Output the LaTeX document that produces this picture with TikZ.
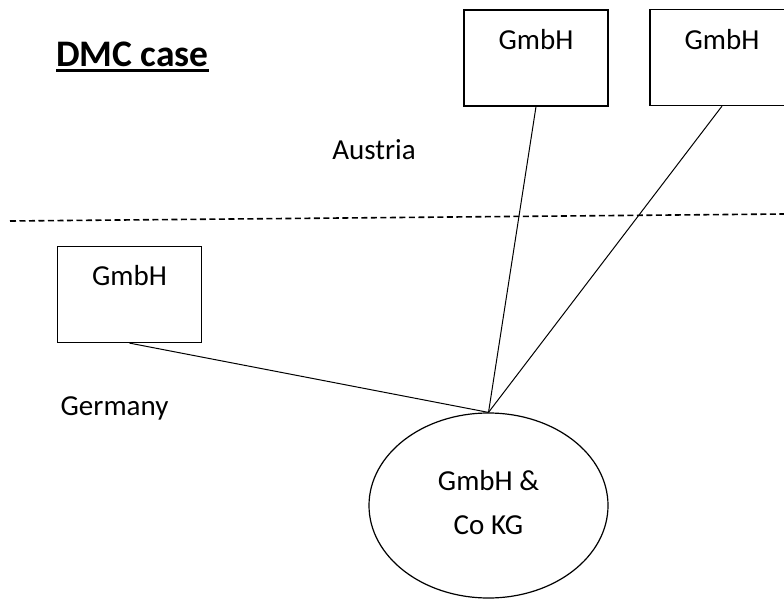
\documentclass[tikz,border=0pt]{standalone}
\usepackage{fontspec}
\setmainfont{Carlito}
\usetikzlibrary{positioning}
\usetikzlibrary{shapes.geometric}

\begin{document}
\begin{tikzpicture}[x=1pt,y=-1pt,
  every node/.style={inner sep=0pt},
  font=\fontsize{29}{44}\selectfont,
  firm/.style={draw,line width=1.2pt,minimum width=144pt,minimum height=96pt},
  kg/.style={draw,ellipse,line width=1.2pt,minimum width=239pt,minimum height=185pt,align=center,text depth=5.5pt},
  border/.style={line width=1.6pt,dash pattern=on 6pt off 3.5pt},
  link/.style={line width=1pt}]
\useasboundingbox (0,0) rectangle (784,599);
\clip (0,0) rectangle (784,599);

\node[anchor=base west,font=\fontsize{37.5}{44}\selectfont\bfseries](title) at (56,67){DMC case};
\draw[line width=3pt] ([yshift=-3.5pt]title.base west) -- ([yshift=-3.5pt]title.base east);

\coordinate (borderL) at (10,221);
\coordinate (borderR) at (784,214);
\draw[border] (borderL) -- (borderR);

\node[anchor=base](austria) at (374,160){Austria};
\node[anchor=base](germany) at (114.5,415){Germany};

\node[firm](gmbhA) at (536,58){};
\node[firm](gmbhB) at (722,57.5){};
\node[firm](gmbhC) at (129.5,294.5){};
\node[anchor=base](nameA) at (536,50){GmbH};
\node[anchor=base](nameB) at (722,50){GmbH};
\node[anchor=base](nameC) at (129.5,285){GmbH};

\node[kg](kg) at (488.5,505.5){GmbH \&\\Co KG};

\path
(gmbhA.south) edge[link] (kg.north)
(gmbhB.south) edge[link] (kg.north)
(gmbhC.south) edge[link] (kg.north);
\end{tikzpicture}
\end{document}
